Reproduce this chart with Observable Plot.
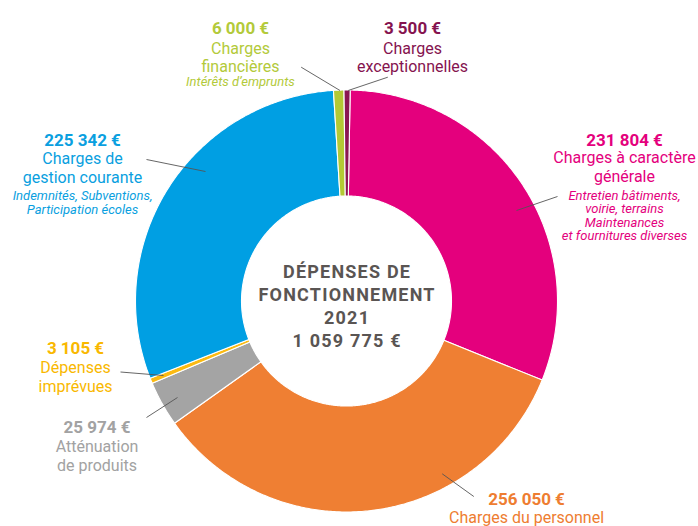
<!DOCTYPE html>
<html><head><meta charset="utf-8">
<script src="https://cdn.jsdelivr.net/npm/d3@7"></script>
<script src="https://cdn.jsdelivr.net/npm/@observablehq/plot@0.6"></script>
<style>body{margin:0;background:#fff;}</style>
</head><body><div id="chart"></div>
<script>
// ---- data ----
const categories = ["Charges à caractère générale","Charges du personnel","Atténuation de produits","Dépenses imprévues","Charges de gestion courante","Charges financières","Charges exceptionnelles"];
const amounts = [231804, 256050, 25974, 3105, 225342, 6000, 3500];
const valueLabels = ["231 804 €","256 050 €","25 974 €","3 105 €","225 342 €","6 000 €","3 500 €"];
const nameLabels = ["Charges à caractère\ngénérale","Charges du personnel","Atténuation\nde produits","Dépenses\nimprévues","Charges de\ngestion courante","Charges\nfinancières","Charges\nexceptionnelles"];
const detailLabels = ["Entretien bâtiments,\nvoirie, terrains\nMaintenances\net fournitures diverses","","","","Indemnités, Subventions,\nParticipation écoles","Intérêts d’emprunts",""];
const centerLines = ["DÉPENSES DE","FONCTIONNEMENT","2021","1 059 775 €"];

// ---- styles / layout ----
const sliceColors = ["#e4007d","#ef7f33","#a4a4a4","#fbba12","#009fe3","#b3c935","#8a1652"];
const textColors  = ["#e4007d","#ee7d31","#a2a2a2","#f9b800","#0a9fe0","#b3ca3a","#85134f"];
const cx = 346, cy = 300.5, R = 211, r = 105, rot = 1 * Math.PI / 180;
// label layout: x centre, baseline of value, last baseline of name, name line height, last baseline of detail, detail line height, leader line
const layout = [
  {x:624, yv:145, yn:181.7, ln:19.4, yd:239.5, ld:13.3, lead:[557,196,516,210]},
  {x:526, yv:504.5, yn:522, ln:19, yd:0, ld:13, lead:[441.7,473.3,473.3,496]},
  {x:96.5, yv:432.7, yn:470, ln:18.5, yd:0, ld:13, lead:[177,397,146,417]},
  {x:75, yv:353.3, yn:391.7, ln:19, yd:0, ld:13, lead:[163,375,120,371.5]},
  {x:82, yv:145, yn:182, ln:19, yd:213, ld:14, lead:[146,159,205,171]},
  {x:240, yv:33, yn:71, ln:18, yd:85, ld:14, lead:[300.7,66.7,339.5,90]},
  {x:412, yv:33, yn:71, ln:18, yd:0, ld:13, lead:[387.3,76.7,347.7,90]}
];
const FONT = "Roboto, 'Noto Sans', sans-serif";
const nameSize = 16, valueSize = 17, detailSize = 13, centerSize = 18;

// ---- slices as polygons ----
const arcs = d3.pie().sort(null).value(d => d).startAngle(rot).endAngle(rot + 2*Math.PI)(amounts);
const step = Math.PI / 360;
const slicePts = [];
arcs.forEach((a, i) => {
  const n = Math.max(2, Math.ceil((a.endAngle - a.startAngle) / step));
  const pts = [];
  for (let j = 0; j <= n; j++) {
    const t = a.startAngle + (a.endAngle - a.startAngle) * j / n;
    pts.push({cat: categories[i], x: cx + R*Math.sin(t), y: cy - R*Math.cos(t)});
  }
  for (let j = n; j >= 0; j--) {
    const t = a.startAngle + (a.endAngle - a.startAngle) * j / n;
    pts.push({cat: categories[i], x: cx + r*Math.sin(t), y: cy - r*Math.cos(t)});
  }
  pts.push({...pts[0]});
  slicePts.push(...pts);
});

const marks = [
  Plot.line(slicePts, {x:"x", y:"y", z:"cat", fill:"cat", stroke:"white", strokeWidth:1.1, curve:"linear"}),
  Plot.link(layout, {x1: d => d.lead[0], y1: d => d.lead[1], x2: d => d.lead[2], y2: d => d.lead[3], stroke:"#555", strokeWidth:0.9})
];
categories.forEach((c, i) => {
  const L = layout[i];
  marks.push(Plot.text([valueLabels[i]], {x: () => L.x, y: () => L.yv, text: d => d, fill: textColors[i], fontSize: valueSize, fontWeight: "bold", fontFamily: FONT, lineAnchor: "bottom", textAnchor: "middle"}));
  marks.push(Plot.text([nameLabels[i]], {x: () => L.x, y: () => L.yn, text: d => d, fill: textColors[i], fontSize: nameSize, fontFamily: FONT, lineAnchor: "bottom", textAnchor: "middle", lineHeight: L.ln / nameSize}));
  if (detailLabels[i]) marks.push(Plot.text([detailLabels[i]], {x: () => L.x, y: () => L.yd, text: d => d, fill: textColors[i], fontSize: detailSize, fontStyle: "italic", fontFamily: FONT, lineAnchor: "bottom", textAnchor: "middle", lineHeight: L.ld / detailSize}));
});
marks.push(Plot.text([centerLines.join("\n")], {x: () => cx + 0.6, y: () => 346, text: d => d, fill: "#5a5553", fontSize: centerSize, fontWeight: "bold", fontFamily: FONT, lineAnchor: "bottom", textAnchor: "middle", lineHeight: 23/centerSize}));

const chart = Plot.plot({
  width: 698, height: 526,
  margin: 0,
  x: {type: "linear", domain: [0, 698], range: [0, 698], axis: null},
  y: {type: "linear", domain: [0, 526], range: [0, 526], axis: null},
  color: {domain: categories, range: sliceColors},
  style: {background: "#fff", overflow: "visible"},
  marks
});
d3.select(chart).selectAll("text")
  .filter(function () { return this.textContent.includes("FONCTIONNEMENT"); })
  .style("letter-spacing", "1.2px");
document.getElementById("chart").appendChild(chart);
</script>
</body></html>
